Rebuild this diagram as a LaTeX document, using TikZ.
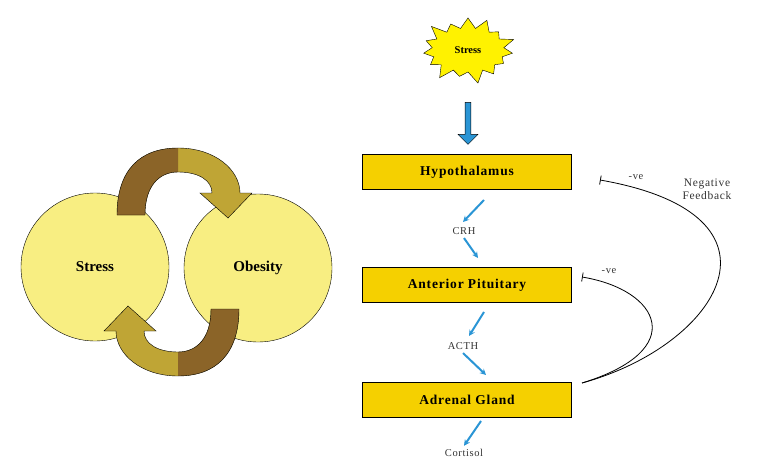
\documentclass[tikz,border=0pt]{standalone}
\usepackage{fontspec}
\setmainfont{Liberation Serif}
\usetikzlibrary{shapes.symbols,shapes.arrows,arrows.meta,positioning}
\definecolor{circlefill}{HTML}{F8EE82}
\definecolor{boxfill}{HTML}{F5D000}
\definecolor{darkarrow}{HTML}{8B6428}
\definecolor{goldarrow}{HTML}{BFA535}
\definecolor{hormone}{HTML}{2A95D5}
\newcommand{\cyclearrow}{(117,215) .. controls (117,170) and (140,148) .. (178,148)
  .. controls (215,148) and (240,170) .. (240,193) -- (252,193) -- (228,218) -- (200,193) -- (212,193)
  .. controls (212,180) and (198,172) .. (178,172) .. controls (160,172) and (145,185) .. (145,215) -- cycle}

\begin{document}
\begin{tikzpicture}[x=1pt, y=-1pt,
    loopcircle/.style={circle, draw, fill=circlefill, minimum size=148pt, font=\fontsize{15}{17}\selectfont\bfseries},
    axisbox/.style={rectangle, draw, fill=boxfill, minimum width=209pt, minimum height=35pt, font=\fontsize{13.5}{15}\selectfont\bfseries\addfontfeature{LetterSpace=6}},
    hlabel/.style={font=\fontsize{10.5}{12}\selectfont\addfontfeature{LetterSpace=6}, text=black!80},
    harrow/.style={-{Stealth[length=6pt,width=6pt]}, hormone, line width=2pt},
    feedback/.style={-{Bar[width=9pt]}, thick}
]
\useasboundingbox (0,0) rectangle (779,476);

% Left: stress-obesity cycle
\node[loopcircle] (stress-c) at (95,267) {Stress};
\node[loopcircle] (obesity-c) at (258,268) {Obesity};

\foreach \s in {1,-1} {
  \begin{scope}[shift={(178-178*\s,262-262*\s)}, xscale=\s, yscale=\s]
    \fill[goldarrow] \cyclearrow;
    \begin{scope}
      \clip (0,100) rectangle (178,240);
      \fill[darkarrow] \cyclearrow;
    \end{scope}
    \draw \cyclearrow;
  \end{scope}
}

% Right: HPA axis
\node[starburst, draw, fill=yellow, minimum width=100pt, minimum height=72pt, starburst points=15, starburst point height=14pt, font=\bfseries\fontsize{10.5}{12}\selectfont] (stress-s) at (468,50) {Stress};
\node[single arrow, draw, fill=hormone, rotate=-90, minimum height=42pt, minimum width=20pt, single arrow head extend=3pt, inner sep=1pt] (down) at (468,122) {};

\node[axisbox] (hypo) at (467,172) {Hypothalamus};
\node[axisbox] (pit) at (467,285) {Anterior Pituitary};
\node[axisbox] (adr) at (467,400) {Adrenal Gland};

\node[hlabel] (crh) at (464,231) {CRH};
\node[hlabel] (acth) at (463,346) {ACTH};
\node[hlabel] (cort) at (464,453) {Cortisol};

\draw[harrow] (484,200) -- (463,222);
\draw[harrow] (crh.south) -- (478,258);
\draw[harrow] (484,312) -- (469,336);
\draw[harrow] (acth.south) -- (486,375);
\draw[harrow] (481,421) -- (cort.north);

% Negative feedback loops
\coordinate (fb-start) at (582,383);
\coordinate (fb-hypo) at (600,180);
\coordinate (fb-pit) at (582,277);
\draw[feedback] (fb-start) .. controls (720,345) and (800,215) .. (fb-hypo);
\draw[feedback] (fb-start) .. controls (690,350) and (660,290) .. (fb-pit);
\node[hlabel] (ve-hypo) at (636,177) {-ve};
\node[hlabel] (ve-pit) at (609,271) {-ve};
\node[hlabel, align=center, font=\fontsize{11.5}{12.5}\selectfont\addfontfeature{LetterSpace=6}] (fb-label) at (707,189) {Negative\\Feedback};
\end{tikzpicture}
\end{document}
